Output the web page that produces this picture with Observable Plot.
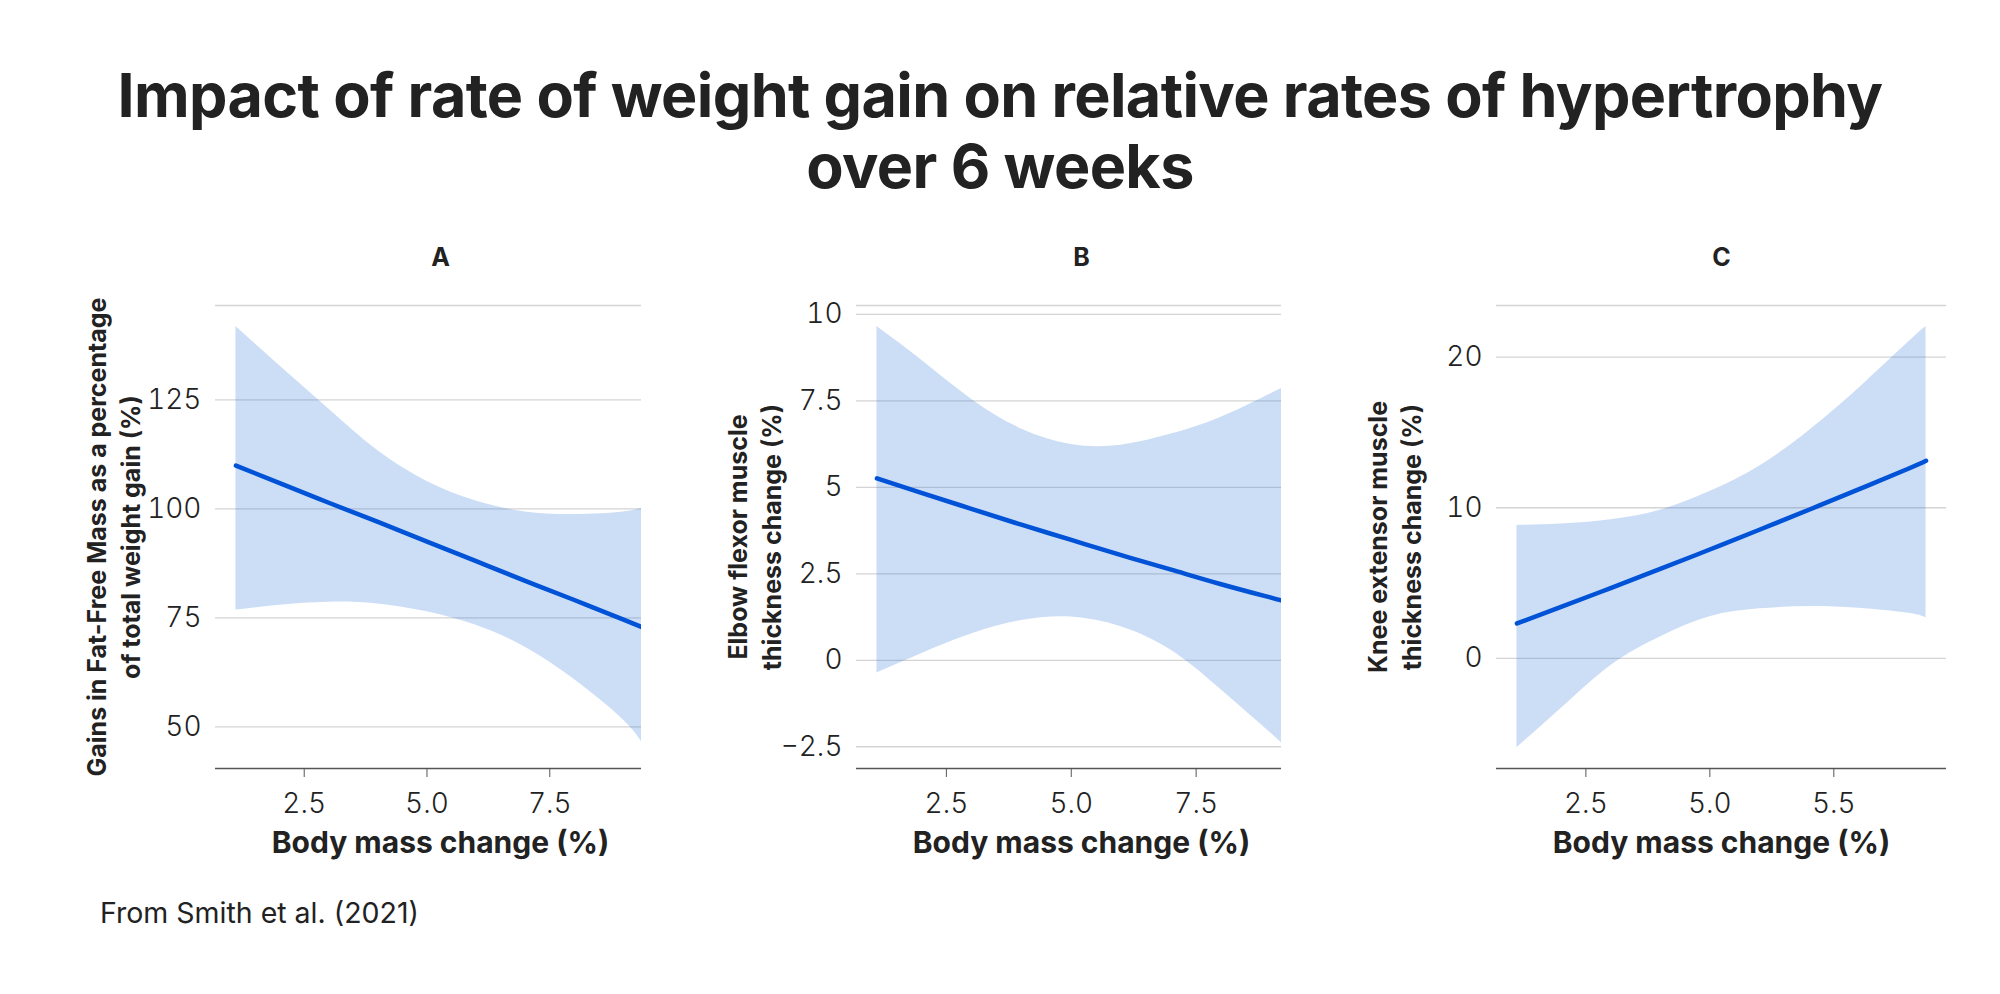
<!DOCTYPE html>
<html><head><meta charset="utf-8">
<script src="https://cdn.jsdelivr.net/npm/d3@7"></script>
<script src="https://cdn.jsdelivr.net/npm/@observablehq/plot@0.6"></script>
<style>
body{margin:0;background:#fff;font-family:Inter,"DejaVu Sans",sans-serif;color:#222}
#root{position:relative;width:2000px;height:994px;overflow:hidden;background:#fff}
#title{position:absolute;left:0;width:2000px;top:60px;text-align:center;font-weight:700;font-size:61px;line-height:71px;letter-spacing:-0.01em;color:#222}
.panel{position:absolute;top:225px}
#caption{position:absolute;left:100px;top:897px;font-size:28.5px;line-height:32px;color:#222}
</style></head>
<body><div id="root">
<div id="title">Impact of rate of weight gain on relative rates of hypertrophy<br>over 6 weeks</div>
<div id="pA" class="panel" style="left:0px"></div>
<div id="pB" class="panel" style="left:641px"></div>
<div id="pC" class="panel" style="left:1281px"></div>
<div id="caption">From Smith et al. (2021)</div>
</div>
<script>
// ---- data ----
const xTicks = [2.5, 5, 7.5];
const xLabelsAB = ["2.5", "5.0", "7.5"];
const xLabelsC = ["2.5", "5.0", "5.5"];
const xTitle = "Body mass change (%)";

const letters = ["A", "B", "C"];
const yTitles = [
  "Gains in Fat-Free Mass as a percentage\nof total weight gain (%)",
  "Elbow flexor muscle\nthickness change (%)",
  "Knee extensor muscle\nthickness change (%)"
];

const xA = [1.11, 2, 3, 4, 5, 6, 7, 8, 9, 9.44];
const fitA = [109.9, 105.9, 101.4, 97.0, 92.5, 88.0, 83.5, 79.1, 74.6, 72.6];
const upperA = [141.8, 132.8, 122.9, 113.3, 106.3, 101.8, 99.3, 98.7, 99.3, 100.4];
const lowerA = [76.8, 77.9, 78.6, 78.2, 76.4, 73.3, 68.3, 60.9, 51.6, 45.3];
const yTicksA = [50, 75, 100, 125];
const yLabelsA = ["50", "75", "100", "125"];

const xB = [1.11, 2, 3, 4, 5, 6, 7, 8, 9, 9.3];
const fitB = [5.26, 4.84, 4.38, 3.92, 3.48, 3.04, 2.62, 2.20, 1.81, 1.69];
const upperB = [9.65, 8.68, 7.55, 6.69, 6.24, 6.22, 6.54, 7.03, 7.71, 7.91];
const lowerB = [-0.37, 0.19, 0.76, 1.15, 1.25, 0.97, 0.29, -0.85, -2.11, -2.52];
const yTicksB = [-2.5, 0, 2.5, 5, 7.5, 10];
const yLabelsB = ["\u22122.5", "0", "2.5", "5", "7.5", "10"];

const xC = [1.11, 2, 3, 4, 5, 6, 7, 8, 9, 9.36];
const fitC = [2.32, 3.42, 4.67, 5.94, 7.23, 8.54, 9.87, 11.22, 12.59, 13.12];
const upperC = [8.83, 8.92, 9.21, 9.84, 11.08, 12.76, 15.12, 17.92, 20.98, 22.03];
const lowerC = [-5.91, -3.33, -0.48, 1.43, 2.77, 3.29, 3.45, 3.33, 3.00, 2.70];
const yTicksC = [0, 10, 20];
const yLabelsC = ["0", "10", "20"];

function expand(ext) {
  const p = (ext[1] - ext[0]) * 0.05;
  return [ext[0] - p, ext[1] + p];
}

function panel(letter, yTitle, xs, fit, upper, lower, yTicks, yLabels, xLabels) {
  const data = xs.map((v, i) => ({x: v, fit: fit[i], lo: lower[i], hi: upper[i]}));
  const xDomain = expand(d3.extent(xs));
  const yDomain = expand(d3.extent([...upper, ...lower, ...fit]));
  return Plot.plot({
    width: 680, height: 655,
    marginLeft: 215, marginRight: 15, marginTop: 80, marginBottom: 112,
    style: {fontFamily: "Inter, sans-serif", fontSize: "28px", color: "#222", background: "#fff", overflow: "visible"},
    x: {domain: xDomain},
    y: {domain: yDomain},
    marks: [
      Plot.ruleY(yTicks, {stroke: "#d4d4d4", strokeWidth: 1.3}),
      Plot.ruleY([yDomain[1]], {stroke: "#d4d4d4", strokeWidth: 1.3}),
      Plot.areaY(data, {x: "x", y1: "lo", y2: "hi", fill: "#3b7ddd", fillOpacity: 0.26, curve: "natural"}),
      Plot.line(data, {x: "x", y: "fit", stroke: "#0052d6", strokeWidth: 4.5, curve: "natural"}),
      Plot.ruleY([yDomain[0]], {stroke: "#555", strokeWidth: 1.6}),
      Plot.axisX({ticks: xTicks, tickFormat: d => xLabels[xTicks.indexOf(d)], tickSize: 9, tickPadding: 16, stroke: "#555", label: null, fontSize: 28, fontWeight: 300}),
      Plot.axisY({ticks: yTicks, tickFormat: d => yLabels[yTicks.indexOf(d)], tickSize: 0, tickPadding: 14, label: null, fontSize: 28, fontWeight: 300}),
      Plot.text([letter], {text: d => d, frameAnchor: "top", dy: -48, lineAnchor: "middle", fontSize: 25, fontWeight: 700, fill: "#222"}),
      Plot.text([xTitle], {text: d => d, frameAnchor: "bottom", dy: 75, lineAnchor: "middle", fontSize: 30, fontWeight: 700, fill: "#222"}),
      Plot.text([yTitle], {text: d => d, frameAnchor: "left", dx: -103, rotate: -90, textAnchor: "middle", lineAnchor: "middle", fontSize: 25, fontWeight: 700, lineHeight: 1.35, fill: "#222"})
    ]
  });
}

document.getElementById("pA").append(panel(letters[0], yTitles[0], xA, fitA, upperA, lowerA, yTicksA, yLabelsA, xLabelsAB));
document.getElementById("pB").append(panel(letters[1], yTitles[1], xB, fitB, upperB, lowerB, yTicksB, yLabelsB, xLabelsAB));
document.getElementById("pC").append(panel(letters[2], yTitles[2], xC, fitC, upperC, lowerC, yTicksC, yLabelsC, xLabelsC));
</script>
</body></html>
